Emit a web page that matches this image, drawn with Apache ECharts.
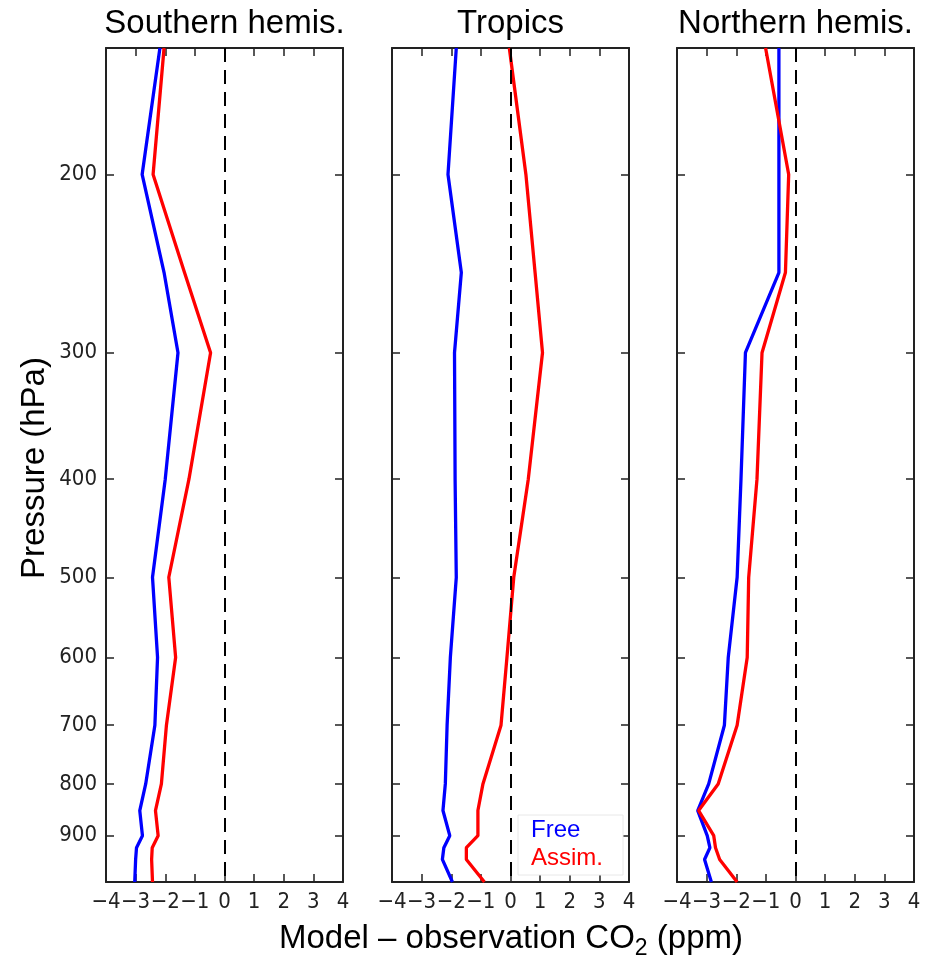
<!DOCTYPE html>
<html>
<head>
<meta charset="utf-8">
<script src="https://cdn.jsdelivr.net/npm/echarts@6/dist/echarts.min.js"></script>
<style>
  html, body { margin: 0; padding: 0; background: #fff; }
  #main { width: 939px; height: 958px; }
</style>
</head>
<body>
<div id="main"></div>
<script>
// pressure levels (hPa), shared by every profile
var levels = [150, 200, 250, 300, 400, 500, 600, 700, 800, 850, 900, 925, 950, 1000];
var pressureTicks = [200, 300, 400, 500, 600, 700, 800, 900];
var xTicks = [-4, -3, -2, -1, 0, 1, 2, 3, 4];

var panelTitles = ['Southern hemis.', 'Tropics', 'Northern hemis.'];

// model - observation CO2 (ppm)
var shFree   = [-2.18, -2.78, -2.04, -1.57, -2.0, -2.43, -2.26, -2.35, -2.66, -2.86, -2.77, -2.97, -3.0, -3.03];
var shAssim  = [-2.04, -2.41, -1.35, -0.47, -1.2, -1.88, -1.65, -1.96, -2.13, -2.33, -2.24, -2.44, -2.46, -2.43];
var trFree   = [-1.83, -2.11, -1.66, -1.89, -1.87, -1.83, -2.03, -2.14, -2.2, -2.28, -2.05, -2.25, -2.3, -1.96];
var trAssim  = [-0.04, 0.52, 0.83, 1.08, 0.6, 0.11, -0.12, -0.32, -0.93, -1.1, -1.1, -1.49, -1.49, -0.88];
var nhFree   = [-0.56, -0.56, -0.56, -1.69, -1.84, -1.97, -2.27, -2.4, -2.93, -3.3, -2.98, -2.89, -3.07, -2.84];
var nhAssim  = [-1.01, -0.23, -0.34, -1.13, -1.3, -1.58, -1.63, -1.97, -2.61, -3.27, -2.76, -2.7, -2.56, -1.97];

var freeData = [shFree, trFree, nhFree];
var assimData = [shAssim, trAssim, nhAssim];

var gridLefts = [106, 392, 677];
var gridWidth = 237;
var tickFont = "'DejaVu Sans Condensed', 'DejaVu Sans', sans-serif";
var textFont = "'Liberation Sans', Arial, sans-serif";
var frameColor = '#222';

var logTicks = pressureTicks.map(function (p) { return Math.log10(p); });

function minusFmt(v) {
  return v < 0 ? '\u2212' + Math.abs(v) : String(v);
}

function profile(vals) {
  // x = ppm, y = log10(pressure)
  return levels.map(function (p, k) { return [vals[k], Math.log10(p)]; });
}

var grids = [], xAxes = [], yAxes = [], series = [];

for (var i = 0; i < 3; i++) {
  grids.push({ left: gridLefts[i], top: 48, width: gridWidth, height: 834 });

  ['bottom', 'top'].forEach(function (pos) {
    xAxes.push({
      gridIndex: i, type: 'value', position: pos,
      min: -4, max: 4, interval: 1,
      axisLine: { show: true, onZero: false, lineStyle: { color: frameColor, width: 2 } },
      axisTick: { show: true, inside: true, length: 8, lineStyle: { color: frameColor, width: 1.5 } },
      axisLabel: {
        show: pos === 'bottom', margin: 9, color: '#222',
        fontFamily: tickFont, fontSize: 22, formatter: minusFmt
      },
      splitLine: { show: false }
    });
  });

  ['left', 'right'].forEach(function (pos) {
    yAxes.push({
      gridIndex: i, type: 'value', position: pos, inverse: true,
      min: Math.log10(150), max: 3,
      axisLine: { show: true, onZero: false, lineStyle: { color: frameColor, width: 2 } },
      axisTick: { show: true, inside: true, length: 8, customValues: logTicks,
                  lineStyle: { color: frameColor, width: 1.5 } },
      axisLabel: {
        show: pos === 'left' && i === 0, margin: 9, color: '#222',
        fontFamily: tickFont, fontSize: 22, customValues: logTicks,
        formatter: function (v) { return String(Math.round(Math.pow(10, v))); }
      },
      splitLine: { show: false }
    });
  });

  series.push({
    name: 'Free', type: 'line', xAxisIndex: i * 2, yAxisIndex: i * 2,
    data: profile(freeData[i]), showSymbol: false, symbol: 'none',
    lineStyle: { color: '#0000ff', width: 3.3 }, itemStyle: { color: '#0000ff' },
    markLine: {
      silent: true, symbol: ['none', 'none'], label: { show: false },
      lineStyle: { color: '#000', width: 2, type: [14, 8] },
      data: [{ xAxis: 0 }]
    },
    z: 3
  });
  series.push({
    name: 'Assim.', type: 'line', xAxisIndex: i * 2, yAxisIndex: i * 2,
    data: profile(assimData[i]), showSymbol: false, symbol: 'none',
    lineStyle: { color: '#ff0000', width: 3.3 }, itemStyle: { color: '#ff0000' },
    z: 3
  });
}

var graphics = panelTitles.map(function (t, i) {
  return {
    type: 'text', x: gridLefts[i] + gridWidth / 2, y: 23.6,
    style: { text: t, font: '33px ' + textFont, fill: '#000', align: 'center', verticalAlign: 'middle' }
  };
});
graphics.push({
  type: 'text', x: 35, y: 468, rotation: Math.PI / 2,
  style: { text: 'Pressure (hPa)', font: '33px ' + textFont, fill: '#000', align: 'center', verticalAlign: 'middle' }
});
graphics.push({
  type: 'text', x: 511, y: 938.6,
  style: {
    text: '{a|Model \u2013 observation CO}{s|2}{a| (ppm)}',
    align: 'center', verticalAlign: 'middle', fill: '#000',
    rich: {
      a: { fontFamily: textFont, fontSize: 33, fill: '#000' },
      s: { fontFamily: textFont, fontSize: 23, padding: [21, 0, 0, 0], fill: '#000' }
    }
  }
});

var chart = echarts.init(document.getElementById('main'), null, { renderer: 'canvas' });
chart.setOption({
  animation: false,
  backgroundColor: '#fff',
  grid: grids,
  xAxis: xAxes,
  yAxis: yAxes,
  legend: {
    orient: 'vertical', left: 518, top: 815,
    itemWidth: 0, itemHeight: 0, itemGap: 4,
    padding: [3, 20, 5, 7],
    backgroundColor: '#fff', borderColor: '#e8e8e8', borderWidth: 1,
    selectedMode: false,
    textStyle: { fontFamily: textFont, fontSize: 24 },
    data: [
      { name: 'Free', textStyle: { color: '#0000ff' } },
      { name: 'Assim.', textStyle: { color: '#ff0000' } }
    ]
  },
  graphic: graphics,
  series: series
});
</script>
</body>
</html>
